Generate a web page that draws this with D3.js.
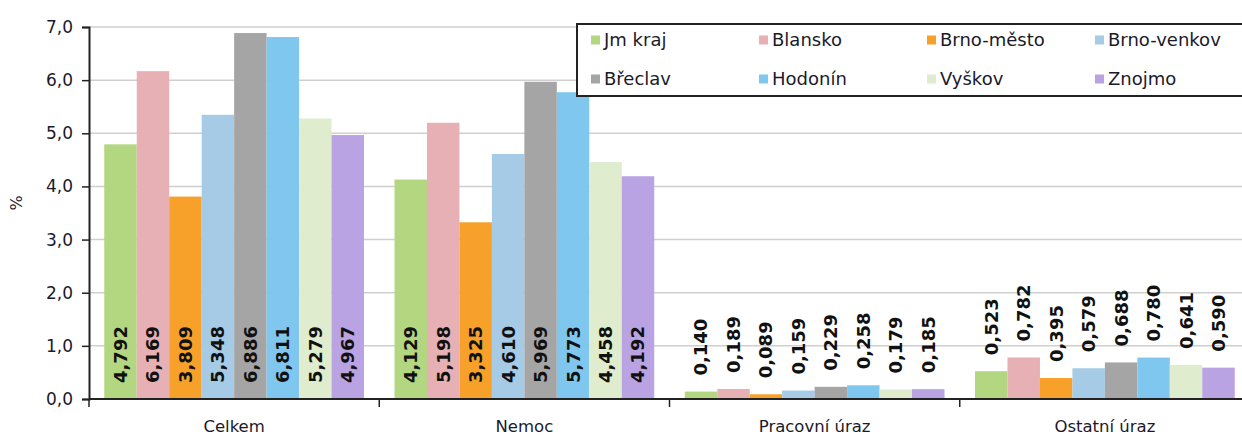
<!DOCTYPE html>
<html>
<head>
<meta charset="utf-8">
<script src="https://cdn.jsdelivr.net/npm/d3@7"></script>
<style>
  body { margin: 0; background: #fff; }
  svg { display: block; font-family: "DejaVu Sans", sans-serif; }
</style>
</head>
<body>
<div id="chart"></div>
<script>
// categories and series
var categories = ["Celkem", "Nemoc", "Pracovní úraz", "Ostatní úraz"];
var seriesNames = ["Jm kraj", "Blansko", "Brno-město", "Brno-venkov", "Břeclav", "Hodonín", "Vyškov", "Znojmo"];
var colors = ["#b3d680", "#e6b0b4", "#f7a12b", "#a6cbe6", "#a5a5a5", "#80c7ef", "#dfeccd", "#b9a3e3"];

// values per category, in series order
var celkem   = [4.792, 6.169, 3.809, 5.348, 6.886, 6.811, 5.279, 4.967];
var nemoc    = [4.129, 5.198, 3.325, 4.610, 5.969, 5.773, 4.458, 4.192];
var pracovni = [0.140, 0.189, 0.089, 0.159, 0.229, 0.258, 0.179, 0.185];
var ostatni  = [0.523, 0.782, 0.395, 0.579, 0.688, 0.780, 0.641, 0.590];
var values = [celkem, nemoc, pracovni, ostatni];

// y tick values
var yTicks = [0, 1, 2, 3, 4, 5, 6, 7];

var width = 1242, height = 437;
var plot = {left: 89, right: 1250, top: 27, bottom: 399};

var svg = d3.select("#chart")
    .append("svg")
    .attr("width", width)
    .attr("height", height);

var x0 = d3.scaleBand()
    .domain(categories)
    .range([plot.left, plot.right]);

var x1 = d3.scaleBand()
    .domain(seriesNames)
    .range([0, x0.bandwidth()])
    .paddingOuter(0.47);

var y = d3.scaleLinear()
    .domain([0, 7])
    .range([plot.bottom, plot.top]);

// gridlines
svg.append("g")
    .selectAll("line")
    .data(yTicks.slice(1))
    .enter()
    .append("line")
    .attr("x1", plot.left)
    .attr("x2", width)
    .attr("y1", function (d) { return y(d); })
    .attr("y2", function (d) { return y(d); })
    .attr("stroke", "#cfcfcf")
    .attr("stroke-width", 1.5);

// bars
var rows = [];
categories.forEach(function (c, i) {
    seriesNames.forEach(function (s, j) {
        rows.push({cat: c, ser: s, v: values[i][j], ci: i, si: j});
    });
});

svg.append("g")
    .selectAll("rect")
    .data(rows)
    .enter()
    .append("rect")
    .attr("x", function (d) { return x0(d.cat) + x1(d.ser); })
    .attr("y", function (d) { return y(d.v); })
    .attr("width", x1.bandwidth())
    .attr("height", function (d) { return y(0) - y(d.v); })
    .style("fill", function (d) { return colors[d.si]; });

// value labels: inside base for the big groups, above the bar for the small ones
svg.append("g")
    .selectAll("text")
    .data(rows)
    .enter()
    .append("text")
    .attr("transform", function (d) {
        var cx = x0(d.cat) + x1(d.ser) + x1.bandwidth() / 2;
        var cy = (d.ci < 2 ? y(0) : y(d.v)) - 16;
        return "translate(" + cx + "," + cy + ") rotate(-90)";
    })
    .attr("dy", "0.36em")
    .attr("text-anchor", "start")
    .style("font-size", "18px")
    .style("font-weight", "bold")
    .style("fill", "#111")
    .text(function (d) { return d.v.toFixed(3).replace(".", ","); });

// Y axis
var yAxis = svg.append("g")
    .attr("transform", "translate(" + plot.left + ",0)")
    .call(d3.axisLeft(y).tickValues(yTicks).tickSize(7).tickPadding(9)
        .tickFormat(function (d) { return d.toFixed(1).replace(".", ","); }));
yAxis.select(".domain").attr("stroke", "#222").attr("stroke-width", 2);
yAxis.selectAll(".tick line").attr("stroke", "#222").attr("stroke-width", 1.5);
yAxis.selectAll("text")
    .style("font-size", "17px")
    .style("fill", "#1a1a2a")
    .style("font-family", "DejaVu Sans");

// X axis
svg.append("line")
    .attr("x1", plot.left)
    .attr("x2", width)
    .attr("y1", plot.bottom)
    .attr("y2", plot.bottom)
    .attr("stroke", "#222")
    .attr("stroke-width", 2);

svg.append("g")
    .selectAll("line")
    .data(categories)
    .enter()
    .append("line")
    .attr("x1", function (d) { return x0(d); })
    .attr("x2", function (d) { return x0(d); })
    .attr("y1", plot.bottom)
    .attr("y2", plot.bottom + 8)
    .attr("stroke", "#222")
    .attr("stroke-width", 1.5);

svg.append("g")
    .selectAll("text")
    .data(categories)
    .enter()
    .append("text")
    .attr("x", function (d) { return x0(d) + x0.bandwidth() / 2; })
    .attr("y", 432)
    .attr("text-anchor", "middle")
    .style("font-size", "16.5px")
    .style("fill", "#1a1a2a")
    .text(function (d) { return d; });

svg.append("text")
    .attr("transform", "translate(22,203) rotate(-90)")
    .attr("text-anchor", "middle")
    .style("font-size", "16px")
    .style("fill", "#1a1a2a")
    .text("%");

// legend
var legend = svg.append("g");
legend.append("rect")
    .attr("x", 577)
    .attr("y", 24)
    .attr("width", 700)
    .attr("height", 72)
    .style("fill", "#fff")
    .style("stroke", "#222")
    .style("stroke-width", 2);

var item = legend.selectAll("g.item")
    .data(seriesNames)
    .enter()
    .append("g")
    .attr("class", "item")
    .attr("transform", function (d, i) {
        return "translate(" + (591 + (i % 4) * 168) + "," + (i < 4 ? 40 : 79) + ")";
    });
item.append("rect")
    .attr("x", 0)
    .attr("y", -4.5)
    .attr("width", 9)
    .attr("height", 9)
    .style("fill", function (d, i) { return colors[i]; });
item.append("text")
    .attr("x", 13)
    .attr("dy", "0.36em")
    .style("font-size", "18px")
    .style("fill", "#1a1a2a")
    .text(function (d) { return d; });
</script>
</body>
</html>
